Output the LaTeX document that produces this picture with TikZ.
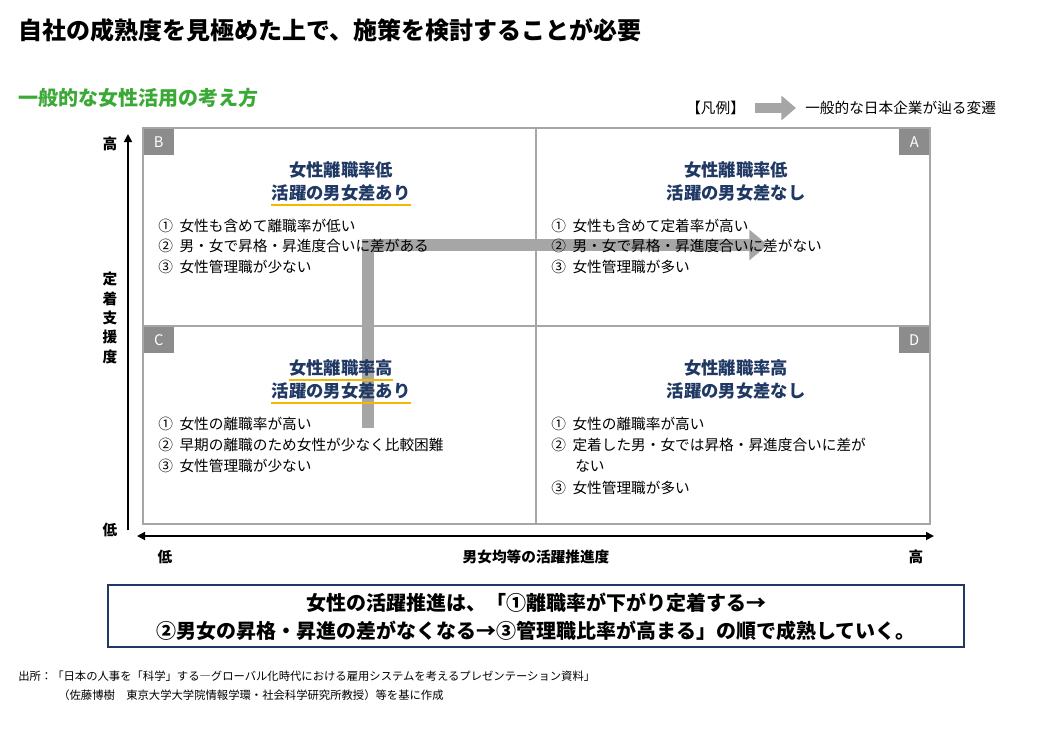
\documentclass[tikz,border=0pt]{standalone}
\usepackage{fontspec}
\setmainfont{Noto Sans CJK JP}
\usetikzlibrary{arrows.meta,calc}
\definecolor{navy}{HTML}{1F3864}
\definecolor{grn}{HTML}{3AA935}
\definecolor{yel}{HTML}{F5B800}
\definecolor{gry}{HTML}{A6A6A6}
\definecolor{lbl}{HTML}{8C8C8C}
\begin{document}
\begin{tikzpicture}[x=0.75pt,y=-0.75pt,
  lab/.style={fill=lbl,text=white,minimum width=22.5pt,minimum height=20pt,inner sep=0,font=\fontsize{11}{12}\selectfont},
  head/.style={text=navy,font=\bfseries\fontsize{13}{15}\selectfont,inner sep=0,anchor=center},
  item/.style={anchor=west,inner sep=0,font=\fontsize{11}{13}\selectfont},
  ul/.style={yel,line width=1.6pt}]
\useasboundingbox (0,0) rectangle (1048,729);
\node[anchor=west,inner sep=0,font=\bfseries\fontsize{18}{20}\selectfont] (title) at (18,30) {自社の成熟度を見極めた上で、施策を検討することが必要};
\node[anchor=west,inner sep=0,text=grn,font=\bfseries\fontsize{15}{17}\selectfont] (sub) at (18,98) {一般的な女性活用の考え方};
\node[anchor=west,inner sep=0,font=\fontsize{11}{13}\selectfont] (leg) at (686,108) {【凡例】};
\coordinate (la) at (755,108); \coordinate (lb) at (796,108);
\draw[gry,line width=8pt,-{Triangle[length=11pt,width=18pt]}] (la) -- (lb);
\node[anchor=west,inner sep=0,font=\fontsize{11}{13}\selectfont] (legt) at (805,108) {一般的な日本企業が辿る変遷};
% grid
\draw[gry,line width=1pt] (143,128) rectangle (930,524);
\draw[gry,line width=1pt] (536,128) -- (536,524) (143,326) -- (930,326);
% big arrow
\coordinate (s) at (368,428); \coordinate (c) at (368,245); \coordinate (e) at (768,245);
\draw[gry,line width=9pt,-{Triangle[length=14pt,width=22pt]}] (s) -- (c) -- (e);
% labels
\node[lab,anchor=north west] (B) at (143.5,128.5) {B};
\node[lab,anchor=north east] (A) at (929.5,128.5) {A};
\node[lab,anchor=north west] (C) at (143.5,326.5) {C};
\node[lab,anchor=north east] (D) at (929.5,326.5) {D};
% B
\node[head] (b1) at (341,170) {女性離職率低};
\node[head] (b2) at (341,193) {活躍の男女差あり};
\draw[ul] ($(b2.south west)+(0,3)$) -- ($(b2.south east)+(0,3)$);
\node[item] at (158,226) {①\ \ 女性も含めて離職率が低い};
\node[item] at (158,246) {②\ \ 男・女で昇格・昇進度合いに差がある};
\node[item] at (158,267) {③\ \ 女性管理職が少ない};
% A
\node[head] (a1) at (736,170) {女性離職率低};
\node[head] (a2) at (736,193) {活躍の男女差なし};
\node[item] at (551,226) {①\ \ 女性も含めて定着率が高い};
\node[item] at (551,246) {②\ \ 男・女で昇格・昇進度合いに差がない};
\node[item] at (551,267) {③\ \ 女性管理職が多い};
% C
\node[head] (c1) at (341,368) {女性離職率高};
\node[head] (c2) at (341,391) {活躍の男女差あり};
\draw[ul] ($(c1.south west)+(0,3)$) -- ($(c1.south east)+(0,3)$);
\draw[ul] ($(c2.south west)+(0,3)$) -- ($(c2.south east)+(0,3)$);
\node[item] at (158,424) {①\ \ 女性の離職率が高い};
\node[item] at (158,445) {②\ \ 早期の離職のため女性が少なく比較困難};
\node[item] at (158,466) {③\ \ 女性管理職が少ない};
% D
\node[head] (d1) at (736,368) {女性離職率高};
\node[head] (d2) at (736,391) {活躍の男女差なし};
\node[item] at (551,424) {①\ \ 女性の離職率が高い};
\node[item] at (551,445) {②\ \ 定着した男・女では昇格・昇進度合いに差が};
\node[item] at (575,466) {ない};
\node[item] at (551,488) {③\ \ 女性管理職が多い};
% axes
\coordinate (yb) at (128,530); \coordinate (yt) at (128,134);
\draw[line width=1.3pt,-{Triangle[length=6pt,width=6pt]}] (yb) -- (yt);
\coordinate (xl) at (137,536); \coordinate (xr) at (934,536);
\draw[line width=1.3pt,{Triangle[length=6pt,width=6pt]}-{Triangle[length=6pt,width=6pt]}] (xl) -- (xr);
\node[inner sep=0,font=\bfseries\fontsize{11}{13}\selectfont] (yh) at (110,144) {高};
\node[inner sep=0,font=\bfseries\fontsize{11}{13}\selectfont] (yl) at (110,530) {低};
\node[inner sep=0,align=center,font=\bfseries\fontsize{11}{14.5}\selectfont] (yt2) at (110,318) {定\\着\\支\\援\\度};
\node[inner sep=0,font=\bfseries\fontsize{11}{13}\selectfont] (xlo) at (165,557) {低};
\node[inner sep=0,font=\bfseries\fontsize{11}{13}\selectfont] (xt) at (536,557) {男女均等の活躍推進度};
\node[inner sep=0,font=\bfseries\fontsize{11}{13}\selectfont] (xhi) at (916,557) {高};
% bottom box
\draw[navy,line width=1.5pt] (108,585) rectangle (964,647);
\node[inner sep=0,align=center,font=\bfseries\fontsize{15}{21}\selectfont] (sum) at (536,617) {女性の活躍推進は、「①離職率が下がり定着する→\\②男女の昇格・昇進の差がなくなる→③管理職比率が高まる」の順で成熟していく。};
% source
\node[anchor=west,inner sep=0,font=\fontsize{8.5}{10}\selectfont] (src1) at (18,676) {出所：「日本の人事を「科学」する―グローバル化時代における雇用システムを考えるプレゼンテーション資料」};
\node[anchor=west,inner sep=0,font=\fontsize{8.5}{10}\selectfont] (src2) at (58,695) {（佐藤博樹　東京大学大学院情報学環・社会科学研究所教授）等を基に作成};
\end{tikzpicture}
\end{document}
